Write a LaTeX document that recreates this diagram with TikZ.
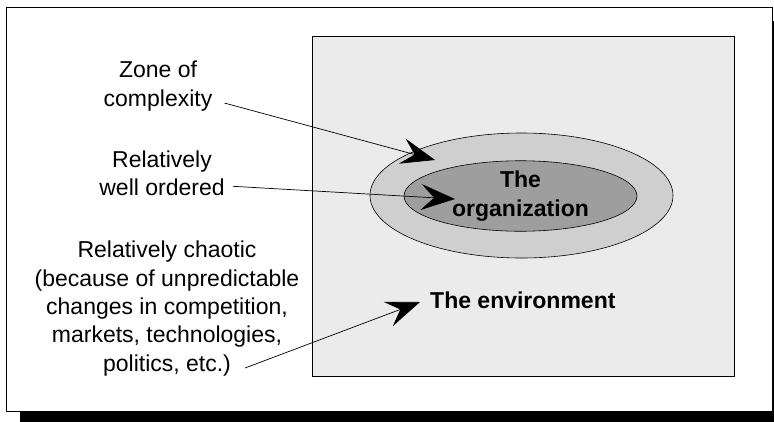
\documentclass[tikz,border=0pt]{standalone}
\usepackage{fontspec}
\setmainfont{Liberation Sans}
\usetikzlibrary{arrows.meta,shapes.geometric}
\newcommand{\envcolor}{black!8}
\newcommand{\zonecolor}{black!19}
\newcommand{\orgcolor}{black!38}
\newcommand{\notefont}{\fontsize{23}{28.3}\selectfont}
\tikzset{
  pointer/.style={line width=0.7pt,-{Stealth[length=34pt,width=26pt,inset=13pt]}},
  remark/.style={align=center,inner sep=0pt,font=\notefont},
  boldremark/.style={remark,font=\notefont\bfseries}
}

\begin{document}
\begin{tikzpicture}[x=1pt,y=-1pt]
  \useasboundingbox (0,0) rectangle (774,421);
  % frame with its shadow
  \fill[black] (20,21) rectangle (790,430);
  \draw[line width=0.8pt,fill=white] (6,7) rectangle (772,411);
  % environment, zone and organization
  \draw[line width=0.6pt,fill=\envcolor] (312,36) rectangle (734,376);
  \node[ellipse,draw,line width=0.6pt,fill=\zonecolor,minimum width=303pt,minimum height=125pt] (zone) at (521.5,195.5) {};
  \node[ellipse,draw,line width=0.6pt,fill=\orgcolor,minimum width=233pt,minimum height=68pt,boldremark] (org) at (520.5,196) {The\\organization};
  \node[boldremark,anchor=west] (env) at (430,300) {The environment};
  % notes on the left
  \node[remark] (complex) at (158,86) {Zone of\\complexity};
  \node[remark] (ordered) at (162,173.5) {Relatively\\well ordered};
  \node[remark] (chaotic) at (167,308.5) {Relatively chaotic\\(because of unpredictable\\changes in competition,\\markets, technologies,\\politics, etc.)};
  \coordinate (zonetip) at (435,160);
  \coordinate (orgtip) at (455,199);
  \coordinate (envtip) at (420,302);
  \draw[pointer] ([xshift=12pt,yshift=8pt]complex.south east) -- (zonetip);
  \draw[pointer] ([xshift=8pt,yshift=10pt]ordered.south east) -- (orgtip);
  \draw[pointer] ([xshift=78pt,yshift=8pt]chaotic.south) -- (envtip);
\end{tikzpicture}
\end{document}
